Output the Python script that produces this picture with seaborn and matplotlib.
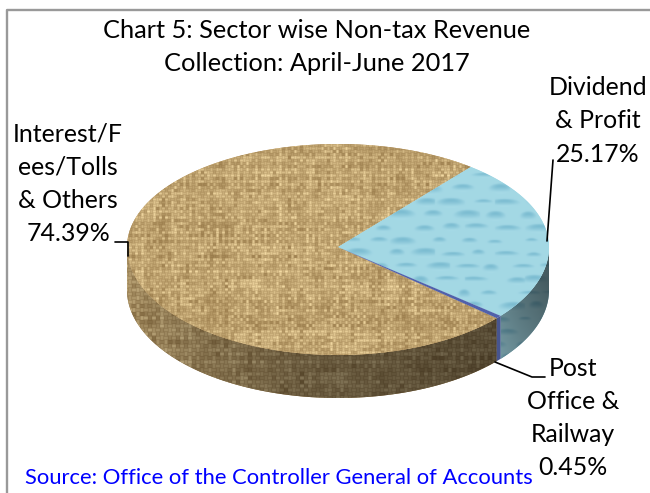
import numpy as np
import matplotlib.pyplot as plt
from matplotlib.patches import Polygon
from matplotlib.lines import Line2D
import seaborn as sns

title = "Chart 5: Sector wise Non-tax Revenue\nCollection: April-June 2017"
source = "Source: Office of the Controller General of Accounts"
categories = ["Dividend\n& Profit", "Post\nOffice &\nRailway", "Interest/F\nees/Tolls\n& Others"]
shares = [25.17, 0.45, 74.39]

W, H = 650, 493
CX, CY = 338, 247   # pie centre, px
RX = 211
RY = 103            # back half of the ellipse, px
FRONT = 108 / RY    # front half is a bit bigger, the original has perspective
DEPTH = 43 / RY

sns.set_theme(style="white")
plt.rcParams["font.family"] = ["Lato", "DejaVu Sans"]

fig = plt.figure(figsize=(W / 100, H / 100), dpi=100)
ax = fig.add_axes([0, 0, 1, 1])

wedges, _ = ax.pie(shares, startangle=51, counterclock=False, frame=True,
                   colors=["#a5dce8", "#5060aa", "#b9965f"])
ax.set_aspect("auto")
xlim = (-CX / RX, (W - CX) / RX)
ylim = (-(H - CY) / RY, CY / RY)
ax.set_xlim(xlim)
ax.set_ylim(ylim)
ax.axis("off")
for w in wedges:
    w.set_visible(False)

X, Y = np.meshgrid(np.arange(W), np.arange(H))


def noise(i, j=0, k=1.0):
    v = np.sin(i * 12.9898 + j * 78.233 + k) * 43758.5453
    return v - np.floor(v)


def soften(a):
    out = a * 0.55
    for ax_, s in ((0, 1), (0, -1), (1, 1), (1, -1)):
        out = out + np.roll(a, s, axis=ax_) * 0.1125
    return out


def burlap(shade, size=3):
    i, j = X // size, Y // size
    warp = 0.35 + noise(i, 0, 1.0) * 0.3 + noise(i, j // 3, 3.0) * 0.4
    weft = 0.35 + noise(j, 0, 4.0) * 0.3 + noise(i // 3, j, 6.0) * 0.4
    over = (i + j) % 2 == 0
    t = np.where(over, warp, weft)
    # dark gaps between the threads
    t = t * (0.5 + 0.5 * np.where(over, np.sin(np.pi * (X % size + 0.5) / size), np.sin(np.pi * (Y % size + 0.5) / size)))
    dark = np.array([118, 86, 40]) / 255
    light = np.array([245, 220, 165]) / 255
    rgb = dark + soften(t)[..., None] * (light - dark)
    return np.clip(rgb * shade[..., None], 0, 1)


def water(shade):
    cw, ch = 30, 13
    j = Y // ch
    xs = X + (j % 2) * 15
    i = xs // cw
    u = (xs % cw) - (8 + noise(i, j, 1.0) * 14)
    v = (Y % ch) - (5 + noise(i, j, 2.0) * 3)
    a = 6 + noise(i, j, 3.0) * 9
    b = 2 + noise(i, j, 4.0) * 3.5
    d = (u / a) ** 2 + (v / b) ** 2
    inside = np.clip(1.2 - d, 0, 1)
    t = 0.72 - inside * (0.3 - 0.45 * v / b)
    t = soften(soften(t))
    dark = np.array([105, 175, 200]) / 255
    light = np.array([186, 232, 240]) / 255
    rgb = dark + np.clip(t, 0, 1)[..., None] * (light - dark)
    return np.clip(rgb * shade[..., None], 0, 1)


def paint(rgb, patch, z):
    im = ax.imshow(rgb, extent=(xlim[0], xlim[1], ylim[0], ylim[1]), origin="upper",
                   aspect="auto", interpolation="nearest", zorder=z)
    im.set_clip_path(patch)


def squash(y):
    return np.where(y < 0, y * FRONT, y)


def add_shape(pts, color, z):
    patch = Polygon(pts, closed=True, facecolor=color, edgecolor="none",
                    transform=ax.transData, zorder=z)
    ax.add_patch(patch)
    return patch


def top_patch(wedge, color, z):
    theta = np.radians(np.linspace(wedge.theta1, wedge.theta2, 400))
    x, y = np.cos(theta), squash(np.sin(theta))
    return add_shape(np.vstack([[0, 0], np.c_[x, y]]), color, z)


def side_patch(wedge, color, z):
    # outer wall of a wedge, only the part facing the viewer
    a = max(wedge.theta1, -180)
    b = min(wedge.theta2, 0)
    theta = np.radians(np.linspace(a, b, 300))
    x, y = np.cos(theta), squash(np.sin(theta))
    return add_shape(np.vstack([np.c_[x, y], np.c_[x[::-1], y[::-1] - DEPTH]]), color, z)


side_shade = np.interp(X, [127, 190, 300, 495], [0.86, 0.72, 0.56, 0.44])
water_side = np.interp(X, [497, 520, 548], [0.62, 0.54, 0.46]) + np.interp(Y, [280, 360], [-0.04, 0.1])
one = np.ones_like(X, dtype=float)

paint(burlap(side_shade, 4), side_patch(wedges[2], "#8a6c3c", 1), 2)
paint(water(water_side), side_patch(wedges[0], "#5f8f9c", 1), 2)
side_patch(wedges[1], "#47558f", 3)

paint(burlap(one * 1.0), top_patch(wedges[2], "#b9965f", 4), 5)
paint(water(one), top_patch(wedges[0], "#a5dce8", 4), 5)
top_patch(wedges[1], "#5060aa", 6)

# frame, only left and top show in the crop
fig.add_artist(Line2D([6.5 / W, 6.5 / W, 1], [0, 1 - 9.5 / H, 1 - 9.5 / H], color="#999999", linewidth=1.7))


def px_text(x, y, s, size=17.9):
    fig.text(x / W, 1 - y / H, s, ha="center", va="center", linespacing=1.53, fontsize=size, color="black")


def leader(xs, ys):
    fig.add_artist(Line2D([x / W for x in xs], [1 - y / H for y in ys], color="black", linewidth=1.2))


px_text(317, 47, title, size=18.3)
px_text(598, 121, f"{categories[0]}\n{shares[0]:.2f}%")
px_text(573, 418, f"{categories[1]}\n{shares[1]:.2f}%")
px_text(68, 184, f"{categories[2]}\n{shares[2]:.2f}%")
fig.text(25 / W, 1 - 478 / H, source, ha="left", va="center", fontsize=15.8, color="#0000ff")

leader([547, 553], [241, 160])
leader([115, 127.5, 127.5], [241.5, 241.5, 256])
leader([495, 532, 545], [362, 377, 377])

plt.savefig("out.png", dpi=100)
